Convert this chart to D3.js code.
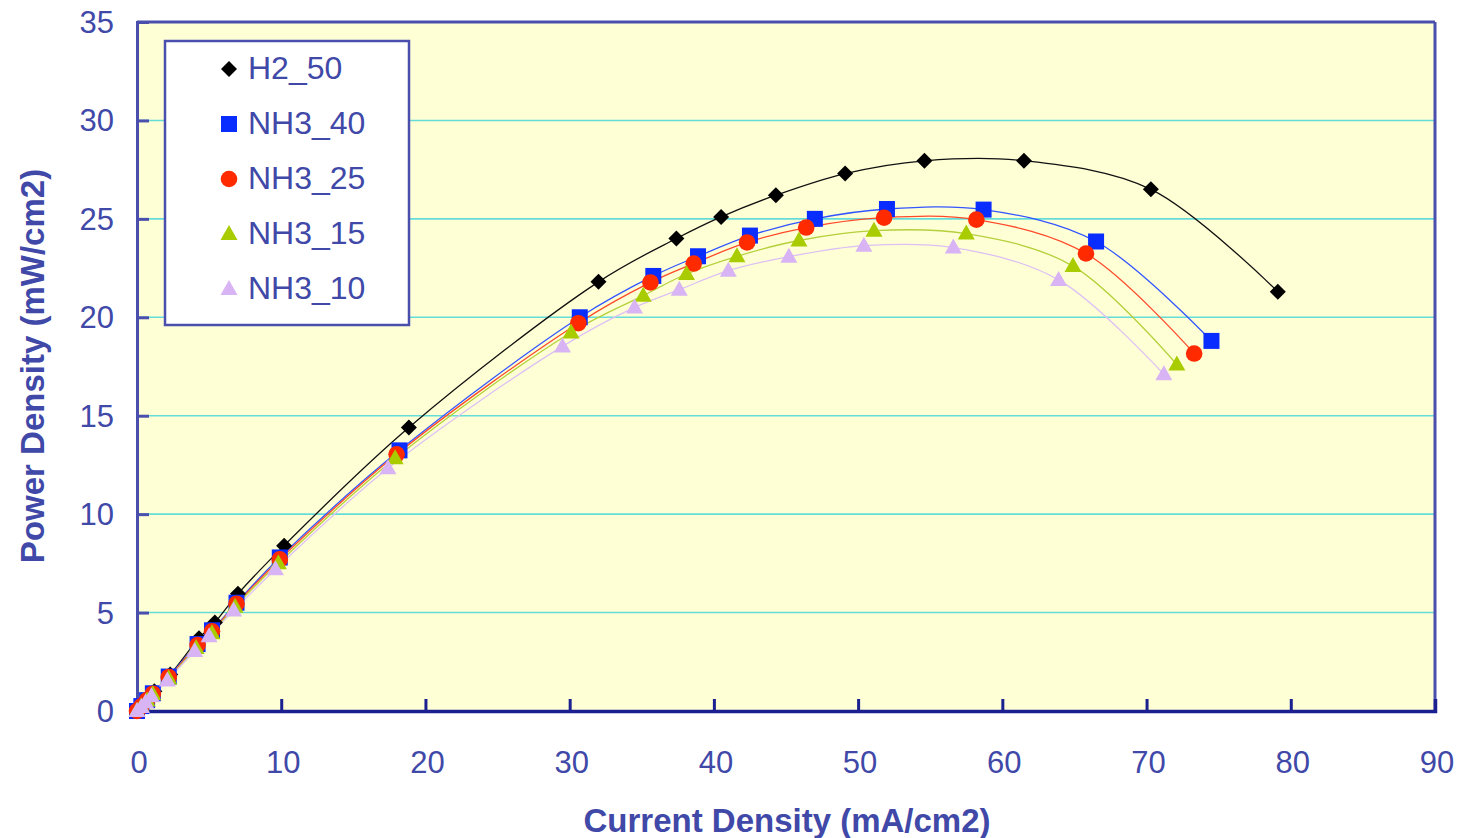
<!DOCTYPE html>
<html><head><meta charset="utf-8">
<script src="https://cdn.jsdelivr.net/npm/d3@7"></script>
<style>body{margin:0;background:#fff;}svg{display:block;font-family:"Liberation Sans",Arial,sans-serif;}</style>
</head><body><svg id="c" width="1461" height="838"></svg>
<script>
const seriesNames = ["H2_50","NH3_40","NH3_25","NH3_15","NH3_10"];
const xTicks = [0,10,20,30,40,50,60,70,80,90];
const yTicks = [0,5,10,15,20,25,30,35];
const h2_50 = [[0,0],[0.3,0.25],[0.7,0.6],[1.2,1.0],[2.3,1.85],[4.3,3.7],[5.4,4.5],[7.0,5.95],[10.2,8.4],[18.85,14.4],[32.0,21.8],[37.4,24.0],[40.5,25.1],[44.3,26.2],[49.1,27.3],[54.6,27.95],[61.5,27.95],[70.3,26.5],[79.1,21.3]];
const nh3_40 = [[0,0],[0.3,0.25],[0.7,0.55],[1.1,0.9],[2.2,1.75],[4.2,3.4],[5.2,4.1],[6.9,5.5],[9.9,7.8],[18.2,13.24],[30.7,20.0],[35.8,22.1],[38.9,23.1],[42.5,24.15],[47.0,25.0],[52.0,25.5],[58.7,25.47],[66.5,23.85],[74.5,18.8]];
const nh3_25 = [[0,0],[0.3,0.24],[0.7,0.55],[1.1,0.88],[2.2,1.72],[4.2,3.35],[5.2,4.05],[6.9,5.45],[9.9,7.7],[18.0,13.04],[30.6,19.7],[35.6,21.77],[38.6,22.73],[42.3,23.8],[46.4,24.56],[51.8,25.06],[58.2,24.96],[65.8,23.24],[73.3,18.16]];
const nh3_15 = [[0,0],[0.3,0.23],[0.7,0.53],[1.1,0.85],[2.2,1.65],[4.1,3.2],[5.2,3.95],[6.8,5.3],[9.8,7.5],[17.9,12.84],[30.1,19.23],[35.1,21.1],[38.1,22.2],[41.6,23.1],[45.9,23.9],[51.1,24.4],[57.5,24.25],[64.9,22.6],[72.1,17.6]];
const nh3_10 = [[0,0],[0.3,0.2],[0.6,0.45],[1.0,0.75],[2.1,1.55],[4.0,3.05],[5.0,3.8],[6.7,5.1],[9.6,7.2],[17.4,12.33],[29.5,18.52],[34.5,20.5],[37.6,21.4],[41.0,22.37],[45.2,23.08],[50.4,23.64],[56.6,23.54],[63.9,21.9],[71.2,17.1]];
const seriesData = [h2_50, nh3_40, nh3_25, nh3_15, nh3_10];
const markerColors = ["#000000","#0a2dff","#ff2a00","#a8cc00","#d8b4f4"];
const lineColors = ["#111111","#3355ff","#ff4a2a","#b4d03a","#dcc0f4"];
const markerShapes = ["diamond","square","circle","triangle","triangle"];

const svg = d3.select("#c");
const L=137, R=1435, T=22, B=711;
const x = d3.scaleLinear().domain([0,90]).range([L,R]);
const y = d3.scaleLinear().domain([0,35]).range([B,T]);
const txt = "#4048a8";

svg.append("rect").attr("x",L).attr("y",T).attr("width",R-L).attr("height",B-T).attr("fill","#ffffd6");
svg.append("g").selectAll("line").data(yTicks.filter(d=>d>0)).join("line")
  .attr("x1",L).attr("x2",R).attr("y1",d=>y(d)).attr("y2",d=>y(d))
  .attr("stroke","#66dcd8").attr("stroke-width",1.6);
svg.append("line").attr("x1",L).attr("x2",R).attr("y1",T).attr("y2",T).attr("stroke","#4a4fae").attr("stroke-width",3);
svg.append("line").attr("x1",R).attr("x2",R).attr("y1",T).attr("y2",B).attr("stroke","#4a4fae").attr("stroke-width",3);

const yAxis = d3.axisRight(y).tickValues(yTicks).tickSize(12).tickFormat("");
const gy = svg.append("g").attr("transform",`translate(${L},0)`).call(yAxis);
gy.selectAll("line").attr("stroke","#4a4fae").attr("stroke-width",3);
gy.select(".domain").attr("stroke","#4a4fae").attr("stroke-width",3);
svg.append("g").selectAll("text").data(yTicks).join("text")
  .attr("x",114).attr("y",d=>y(d)+11).attr("text-anchor","end")
  .attr("font-size",31).attr("fill",txt).text(d=>d);

const xAxis = d3.axisTop(x).tickValues(xTicks).tickSize(12).tickFormat("");
const gx = svg.append("g").attr("transform",`translate(0,${B})`).call(xAxis);
gx.selectAll("line").attr("stroke","#1a2090").attr("stroke-width",3);
gx.select(".domain").attr("stroke","#1a2090").attr("stroke-width",3.5);
svg.append("g").selectAll("text").data(xTicks).join("text")
  .attr("x",d=>x(d)+2).attr("y",773).attr("text-anchor","middle")
  .attr("font-size",31).attr("fill",txt).text(d=>d);

svg.append("text").attr("x",787).attr("y",832).attr("text-anchor","middle")
  .attr("font-size",33).attr("font-weight","bold").attr("fill",txt).text("Current Density (mA/cm2)");
svg.append("text").attr("transform","translate(44,366) rotate(-90)").attr("text-anchor","middle")
  .attr("font-size",33).attr("font-weight","bold").attr("fill",txt).text("Power Density (mW/cm2)");

const line = d3.line().x(d=>x(d[0])).y(d=>y(d[1])).curve(d3.curveCatmullRom.alpha(0.5));

function drawMarker(g, shape, color, cx, cy){
  if(shape==="diamond"){
    g.append("path").attr("d",`M${cx},${cy-8}L${cx+8},${cy}L${cx},${cy+8}L${cx-8},${cy}Z`).attr("fill",color);
  } else if(shape==="square"){
    g.append("rect").attr("x",cx-8).attr("y",cy-8).attr("width",16).attr("height",16).attr("fill",color);
  } else if(shape==="circle"){
    g.append("circle").attr("cx",cx).attr("cy",cy).attr("r",8.3).attr("fill",color);
  } else {
    g.append("path").attr("d",`M${cx},${cy-9}L${cx+8.5},${cy+6}L${cx-8.5},${cy+6}Z`).attr("fill",color);
  }
}

seriesData.forEach((data,i)=>{
  svg.append("path").datum(data).attr("d",line).attr("fill","none")
    .attr("stroke",lineColors[i]).attr("stroke-width",1.3);
});
seriesData.forEach((data,i)=>{
  const g = svg.append("g");
  data.forEach(d=>drawMarker(g,markerShapes[i],markerColors[i],x(d[0]),y(d[1])));
});

svg.append("rect").attr("x",165).attr("y",41).attr("width",244).attr("height",284)
  .attr("fill","#fff").attr("stroke","#4a4fae").attr("stroke-width",2.5);
seriesNames.forEach((n,i)=>{
  const cy = 67 + i*55;
  const g = svg.append("g");
  drawMarker(g,markerShapes[i],markerColors[i],229,cy+2);
  svg.append("text").attr("x",248).attr("y",cy+12).attr("font-size",32).attr("fill",txt).text(n);
});
</script></body></html>
